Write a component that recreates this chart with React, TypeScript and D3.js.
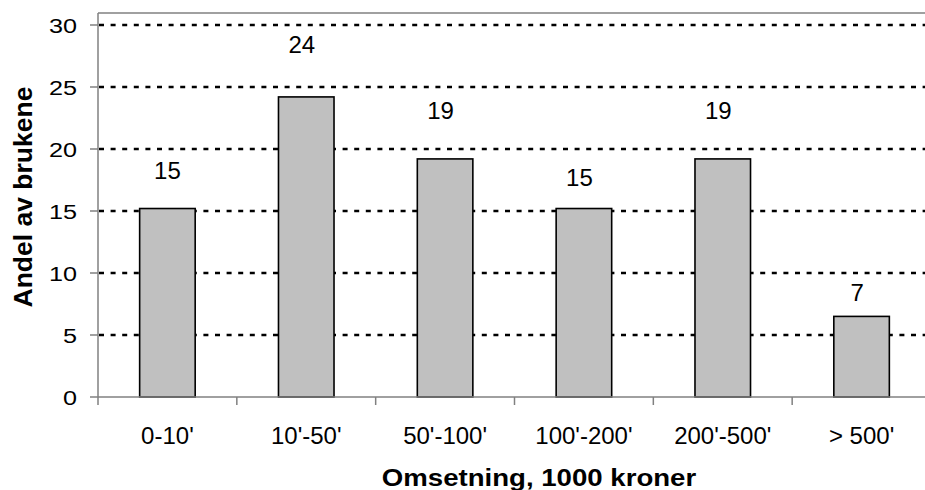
import React from "react";
import * as d3 from "d3";

const categories = ["0-10'", "10'-50'", "50'-100'", "100'-200'", "200'-500'", "> 500'"];
const values = [15.2, 24.2, 19.2, 15.2, 19.2, 6.5];
const valueLabels = ["15", "24", "19", "15", "19", "7"];
// where each (manually placed) data label sits, in data units
const labelAnchors = [18.3, 28.45, 23.1, 17.7, 23.1, 8.4];
const yTicks = [0, 5, 10, 15, 20, 25, 30];
const yTitle = "Andel av brukene";
const xTitle = "Omsetning, 1000 kroner";

const W = 925;
const H = 490;
const plotLeft = 98;
const plotRight = 931;
const plotTop = 13;

export default function App() {
  const y = d3.scaleLinear().domain([0, 30]).range([397, 25]);
  const x = d3
    .scaleBand<string>()
    .domain(categories)
    .range([plotLeft, plotRight])
    .paddingInner(0.6)
    .paddingOuter(0.3);
  const step = x.step();
  const font = "'Liberation Sans', Arial, sans-serif";
  const boundaries = d3.range(categories.length + 1).map((i) => plotLeft + i * step);

  return (
    <svg
      width={W}
      height={H}
      style={{ position: "absolute", left: 0, top: 0, background: "#fff" }}
      fontFamily={font}
    >
      <rect x={0} y={0} width={W} height={H} fill="#fff" />
      {/* plot border top */}
      <line x1={plotLeft} x2={W} y1={plotTop} y2={plotTop} stroke="#808080" strokeWidth={1.5} />
      {/* gridlines */}
      {yTicks
        .filter((t) => t > 0)
        .map((t) => (
          <line
            key={"g" + t}
            x1={plotLeft + 1}
            x2={W}
            y1={y(t)}
            y2={y(t)}
            stroke="#000"
            strokeWidth={2.6}
            strokeDasharray="5,6.6"
          />
        ))}
      {/* bars */}
      {values.map((v, i) => (
        <rect
          key={"b" + i}
          x={x(categories[i])!}
          y={y(v)}
          width={x.bandwidth()}
          height={y(0) - y(v)}
          fill="#c0c0c0"
          stroke="#000"
          strokeWidth={1.6}
        />
      ))}
      {/* y axis */}
      <line x1={plotLeft} x2={plotLeft} y1={plotTop} y2={y(0)} stroke="#808080" strokeWidth={1.5} />
      {yTicks.map((t) => (
        <g key={"t" + t}>
          <line x1={plotLeft - 8} x2={plotLeft} y1={y(t)} y2={y(t)} stroke="#808080" strokeWidth={1.5} />
          <text
            transform={`translate(77,${y(t)}) scale(1.2,1)`}
            dy="0.36em"
            textAnchor="end"
            fontSize={21}
            fill="#000"
          >
            {t}
          </text>
        </g>
      ))}
      {/* x axis */}
      <line x1={plotLeft} x2={W} y1={y(0)} y2={y(0)} stroke="#808080" strokeWidth={1.5} />
      {boundaries.map((b, i) => (
        <line key={"xt" + i} x1={b} x2={b} y1={y(0)} y2={y(0) + 8} stroke="#808080" strokeWidth={1.5} />
      ))}
      {categories.map((c) => (
        <text
          key={"c" + c}
          x={x(c)! + x.bandwidth() / 2}
          y={444}
          textAnchor="middle"
          fontSize={24}
          fill="#000"
        >
          {c}
        </text>
      ))}
      {/* data labels */}
      {valueLabels.map((l, i) => (
        <text
          key={"l" + i}
          x={x(categories[i])! + x.bandwidth() / 2 - (i === 0 ? 0 : 4.5)}
          y={y(labelAnchors[i])}
          dy="0.36em"
          textAnchor="middle"
          fontSize={24}
          fill="#000"
        >
          {l}
        </text>
      ))}
      {/* axis titles */}
      <text
        transform="translate(539,486) scale(1.15,1)"
        textAnchor="middle"
        fontSize={24}
        fontWeight="bold"
        fill="#000"
      >
        {xTitle}
      </text>
      <text
        transform={`translate(32,197) rotate(-90)`}
        textAnchor="middle"
        fontSize={26.5}
        fontWeight="bold"
        fill="#000"
      >
        {yTitle}
      </text>
    </svg>
  );
}
